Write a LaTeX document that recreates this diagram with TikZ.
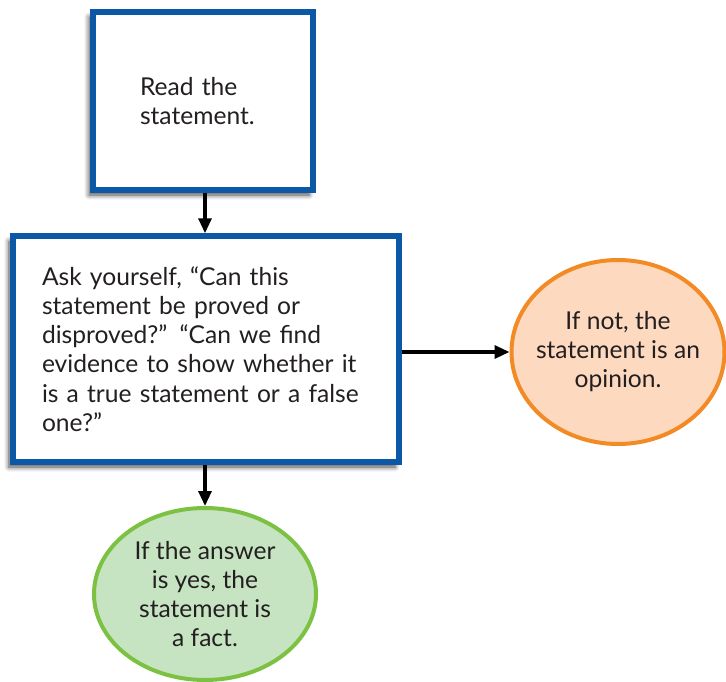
\documentclass[tikz,border=0pt]{standalone}
\usepackage{fontspec}
\setmainfont{Lato}
\usetikzlibrary{shapes.geometric,arrows.meta,shadows.blur}
\definecolor{boxblue}{HTML}{0B58A6}
\definecolor{orangeedge}{HTML}{F28A26}
\definecolor{orangefill}{HTML}{FCD9BF}
\definecolor{greenedge}{HTML}{7CC142}
\definecolor{greenfill}{HTML}{C6E4C2}
\definecolor{txt}{HTML}{231F20}
\tikzset{
  flowbox/.style={draw=boxblue, line width=5.5pt, fill=white, rectangle, inner sep=0pt,
    align=left, text=txt, font=\fontsize{24.6}{29.2}\selectfont,
    blur shadow={shadow xshift=-4pt, shadow yshift=-5pt, shadow blur steps=6, shadow opacity=70, shadow blur radius=5pt}},
  outcome/.style={ellipse, line width=4pt, inner xsep=-12pt, inner ysep=0pt, align=center, text=txt,
    font=\fontsize{24.6}{29}\selectfont},
  flowarrow/.style={line width=3.2pt, draw=black, -{Triangle[length=15pt,width=13pt]}}
}
\begin{document}
\begin{tikzpicture}[x=1pt,y=-1pt]
\useasboundingbox (0,0) rectangle (726,682);
\node[flowbox, minimum width=220pt, minimum height=178pt, text width=126pt] (read) at (203,101)
  {Read the\\statement.};
\node[flowbox, minimum width=386pt, minimum height=226pt, text width=328pt] (ask) at (206,349)
  {Ask yourself, “Can this\\statement be proved or\\disproved?” “Can we find\\evidence to show whether it\\is a true statement or a false\\one?”};
\node[outcome, draw=orangeedge, fill=orangefill, minimum width=213pt, minimum height=184pt] (opinion) at (618,352)
  {If not, the\\statement is an\\opinion.};
\node[outcome, draw=greenedge, fill=greenfill, minimum width=222pt, minimum height=172pt] (fact) at (205,594)
  {If the answer\\is yes, the\\statement is\\a fact.};
\coordinate (topout) at (205,190);
\draw[flowarrow] (read.south -| topout) -- (ask.north -| topout);
\draw[flowarrow] (ask.east |- opinion.west) -- (opinion.west);
\draw[flowarrow] (ask.south -| fact.north) -- (fact.north);
\end{tikzpicture}
\end{document}
